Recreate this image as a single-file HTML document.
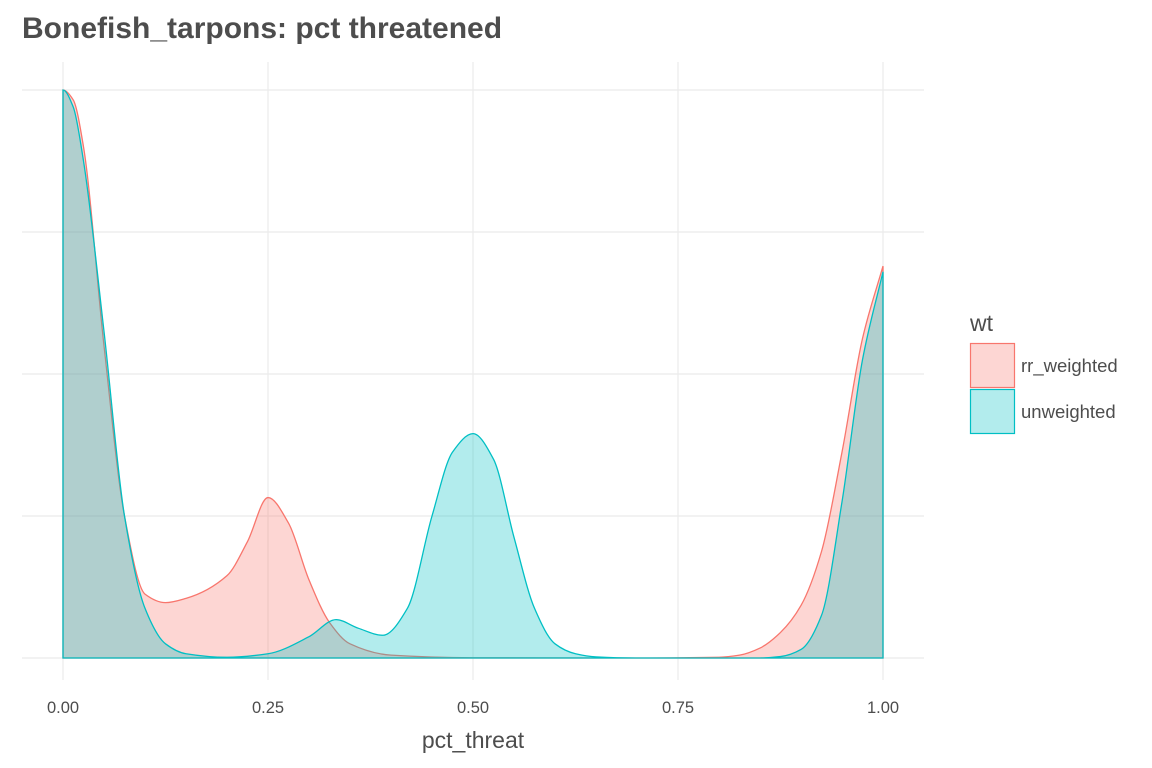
<!DOCTYPE html>
<html><head><meta charset="utf-8"><style>
body{margin:0;background:#fff;}
svg{display:block;font-family:"Liberation Sans",sans-serif;}
</style></head><body>
<svg id="chart" width="1152" height="768">
<text x="22" y="38" font-size="30" font-weight="bold" fill="#4d4d4d">Bonefish_tarpons: pct threatened</text>
<g id="grid"></g>
<g id="areas"></g>
<g id="ticks"></g>
<text x="473" y="748" font-size="23" fill="#4d4d4d" text-anchor="middle">pct_threat</text>
<g>
<text x="970" y="331" font-size="23" fill="#4d4d4d">wt</text>
<g>
<rect x="970.5" y="343.5" width="44" height="44" fill="rgba(248,118,109,0.3)" stroke="#F8766D" stroke-width="1.2"/>
<text x="1021" y="372" font-size="18.5" fill="#4d4d4d">rr_weighted</text></g>
<g>
<rect x="970.5" y="389.5" width="44" height="44" fill="rgba(0,191,196,0.3)" stroke="#00BFC4" stroke-width="1.2"/>
<text x="1021" y="418" font-size="18.5" fill="#4d4d4d">unweighted</text></g>
</g>
</svg>
<script>
const xTicks=[0,0.25,0.5,0.75,1];
const xTickLabels=["0.00","0.25","0.50","0.75","1.00"];
const yGrid=[0,1,2,3,4];
const rrX=[0,0.0125,0.025,0.05,0.075,0.1,0.125,0.15,0.2,0.225,0.25,0.275,0.3,0.325,0.35,0.4,0.5,0.7,0.8,0.825,0.85,0.875,0.9,0.925,0.95,0.975,1];
const rrY=[4,3.93,3.6,2.2,1.0,0.45,0.39,0.42,0.58,0.82,1.13,0.95,0.55,0.25,0.1,0.02,0.002,0,0.005,0.02,0.07,0.18,0.37,0.75,1.45,2.25,2.76];
const unX=[0,0.0125,0.025,0.05,0.075,0.1,0.125,0.15,0.2,0.25,0.3,0.333,0.36,0.39,0.42,0.45,0.475,0.5,0.525,0.55,0.575,0.6,0.625,0.65,0.7,0.85,0.875,0.9,0.925,0.95,0.975,1];
const unY=[4,3.88,3.5,2.3,1.0,0.35,0.1,0.03,0.005,0.03,0.15,0.27,0.21,0.16,0.35,1.0,1.45,1.58,1.4,0.85,0.35,0.1,0.03,0.008,0,0,0.01,0.06,0.3,1.1,2.1,2.72];
const NS="http://www.w3.org/2000/svg";
const xs=v=>63+v*820, ys=v=>658-v*142;
const grid=document.getElementById('grid');
function line(x1,y1,x2,y2){const l=document.createElementNS(NS,'line');l.setAttribute('x1',x1);l.setAttribute('y1',y1);l.setAttribute('x2',x2);l.setAttribute('y2',y2);l.setAttribute('stroke','#ebebeb');l.setAttribute('stroke-width','1.2');


grid.appendChild(l);}
yGrid.forEach(v=>line(22,ys(v),924,ys(v)));
xTicks.forEach(v=>line(xs(v),62,xs(v),680));
const ticks=document.getElementById('ticks');
xTicks.forEach((v,i)=>{const t=document.createElementNS(NS,'text');t.setAttribute('x',xs(v));t.setAttribute('y',713);t.setAttribute('font-size','16.5');t.setAttribute('fill','#4d4d4d');t.setAttribute('text-anchor','middle');t.textContent=xTickLabels[i];


ticks.appendChild(t);});
function pathFor(X,Y){
const P=X.map((x,i)=>[xs(x),ys(Y[i])]);const n=P.length;
const d0=[],m=[];
for(let i=0;i<n-1;i++)d0.push((P[i+1][1]-P[i][1])/(P[i+1][0]-P[i][0]));
m[0]=0;m[n-1]=d0[n-2];
for(let i=1;i<n-1;i++){if(d0[i-1]*d0[i]<=0)m[i]=0;else{const h0=P[i][0]-P[i-1][0],h1=P[i+1][0]-P[i][0];const w1=2*h1+h0,w2=h1+2*h0;m[i]=(w1+w2)/(w1/d0[i-1]+w2/d0[i]);}}
let d=`M${xs(0)},${ys(0)} L${P[0][0]},${P[0][1]}`;
for(let i=0;i<n-1;i++){const h=(P[i+1][0]-P[i][0])/3;
d+=` C${P[i][0]+h},${P[i][1]+m[i]*h} ${P[i+1][0]-h},${P[i+1][1]-m[i+1]*h} ${P[i+1][0]},${P[i+1][1]}`;}
d+=` L${xs(1)},${ys(0)} Z`;return d;}
const areas=document.getElementById('areas');
[[rrX,rrY,'rgba(248,118,109,0.3)','#F8766D','area-rr-weighted'],[unX,unY,'rgba(0,191,196,0.3)','#00BFC4','area-unweighted']].forEach(s=>{
const p=document.createElementNS(NS,'path');p.setAttribute('d',pathFor(s[0],s[1]));p.setAttribute('fill',s[2]);p.setAttribute('stroke',s[3]);p.setAttribute('stroke-width','1.3');


areas.appendChild(p);});
</script>
</body></html>
